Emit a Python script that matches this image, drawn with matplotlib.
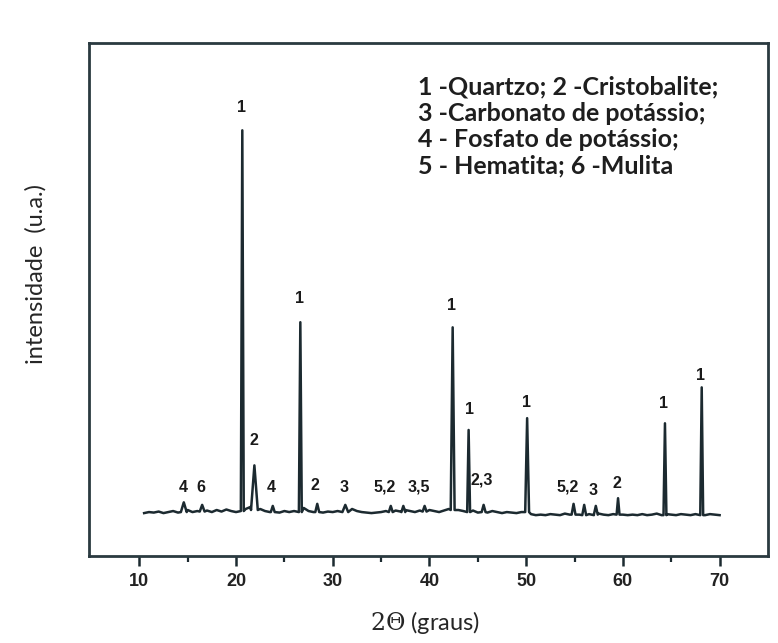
import numpy as np
import matplotlib
matplotlib.use("Agg")
import matplotlib.pyplot as plt

matplotlib.rc('mathtext', fontset='dejavuserif')

# fundo do difratograma, lido a cada 0,5 grau (10,5 a 70,0)
base_start = 10.5
base_step = 0.5
baseline = [
    84, 86, 85, 87, 84, 86, 88, 85, 87, 90,
    86, 88, 85, 89, 86, 90, 87, 91, 88, 86,
    88, 92, 96, 98, 92, 88, 86, 87, 85, 88,
    86, 88, 90, 94, 88, 86, 89, 85, 87, 86,
    88, 86, 90, 92, 88, 86, 85, 84, 85, 86,
    88, 86, 89, 87, 90, 88, 86, 89, 87, 90,
    88, 86, 89, 92, 94, 90, 88, 86, 89, 85,
    87, 85, 88, 86, 84, 86, 85, 84, 86, 88,
    82, 80, 81, 80, 82, 81, 80, 83, 81, 88,
    81, 80, 82, 80, 83, 81, 80, 82, 90, 81,
    80, 81, 80, 82, 80, 81, 83, 80, 82, 81,
    80, 82, 81, 80, 82, 81, 80, 82, 81, 80,
]

# picos: posicao (2theta), topo, pe, meia largura na base
peak_pos = [14.6, 16.5, 20.65, 21.9, 23.8, 26.65, 28.4, 31.3, 36.0, 37.3,
            39.5, 42.4, 44.05, 45.6, 50.1, 54.9, 56.0, 57.2, 59.5, 64.35, 68.15]
peak_top = [105, 100, 830, 177, 98, 456, 102, 100, 98, 98,
            98, 446, 246, 100, 269, 102, 100, 98, 113, 259, 329]
peak_foot = [86, 87, 88, 90, 86, 86, 86, 86, 86, 86,
             87, 90, 86, 86, 86, 81, 80, 81, 81, 80, 80]
peak_hw = [0.3, 0.25, 0.15, 0.35, 0.2, 0.15, 0.2, 0.3, 0.2, 0.2,
           0.2, 0.2, 0.15, 0.2, 0.2, 0.2, 0.2, 0.2, 0.15, 0.15, 0.15]

# rotulos das fases sobre os picos
lab_text = ["1", "2", "1", "1", "1", "1", "1", "1",
            "4", "6", "4", "2", "3", "5,2", "3,5", "2,3", "5,2", "3", "2"]
lab_x = [20.6, 21.9, 26.6, 42.3, 44.15, 50.0, 64.25, 68.05,
         14.5, 16.4, 23.6, 28.2, 31.2, 35.4, 38.9, 45.4, 54.3, 56.9, 59.4]
lab_y = [875, 226, 503, 489, 285, 300, 298, 353,
         134, 134, 134, 138, 134, 134, 134, 148, 134, 129, 142]

legend_lines = ["1 -Quartzo; 2 -Cristobalite;",
                "3 -Carbonato de potássio;",
                "4 - Fosfato de potássio;",
                "5 - Hematita; 6 -Mulita"]

# monta a curva: fundo + picos triangulares
base_x = base_start + base_step * np.arange(len(baseline))
pts = []
for bx, by in zip(base_x, baseline):
    inside = any(abs(bx - c) <= w for c, w in zip(peak_pos, peak_hw))
    if not inside:
        pts.append((bx, by))
for c, t, f, w in zip(peak_pos, peak_top, peak_foot, peak_hw):
    pts += [(c - w, f), (c, t), (c + w, f)]
pts.sort()
tt = np.array([p[0] for p in pts])
ii = np.array([p[1] for p in pts])

fig = plt.figure(figsize=(7.78, 6.43), dpi=100)
ax = fig.add_axes([0.1144, 0.135, 0.8727, 0.798])

ink = '#1c2a30'
ax.plot(tt, ii, color=ink, linewidth=1.8)

for s, x, y in zip(lab_text, lab_x, lab_y):
    ax.text(x, y, s, ha='center', va='center', fontsize=11.5,
            fontweight='bold', family='Liberation Sans', color='#1a1a1a')

for k, s in enumerate(legend_lines):
    ax.text(0.4845, 0.914 - k * 0.0513, s, transform=ax.transAxes,
            ha='left', va='center', fontsize=18, fontweight='bold',
            family='Lato', color='#1e1e1e')

ax.set_xlim(4.8, 75)
ax.set_ylim(0, 1000)
ax.set_xticks([10, 20, 30, 40, 50, 60, 70])
ax.set_xticks([15, 25, 35, 45, 55, 65], minor=True)
ax.set_yticks([])
ax.tick_params(axis='x', which='major', direction='out', length=7, width=1.8,
               color=ink, labelsize=13, pad=5)
ax.tick_params(axis='x', which='minor', direction='out', length=4, width=1.6,
               color=ink)
for lb in ax.get_xticklabels():
    lb.set_fontweight('bold')
    lb.set_family('Liberation Sans')
    lb.set_color('#222222')
for sp in ax.spines.values():
    sp.set_linewidth(2.0)
    sp.set_color('#2a3a40')

ax.set_ylabel('intensidade  (u.a.)', fontsize=17, family='Lato', color='#262626')
ax.yaxis.set_label_coords(-0.062, 0.55)
ax.set_xlabel(r'$\mathrm{2\Theta}$ (graus)', fontsize=17, family='Lato', color='#262626')
ax.xaxis.set_label_coords(0.495, -0.103)

fig.savefig('out.png', dpi=100)
